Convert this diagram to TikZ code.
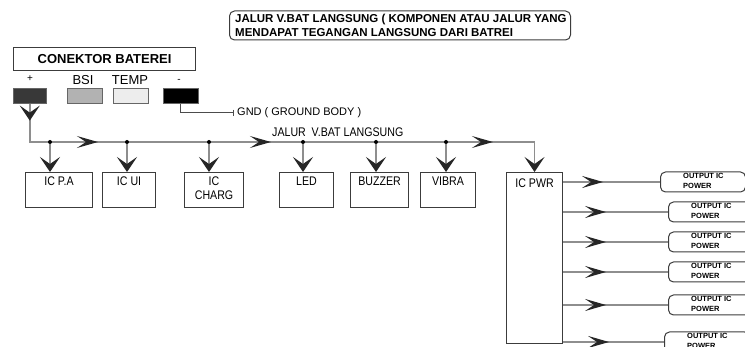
\documentclass[tikz,border=0pt]{standalone}
\usepackage{fontspec}
\setmainfont{Liberation Sans}
\newfontfamily\cond[FakeStretch=0.85]{Liberation Sans}
\newfontfamily\plain{Liberation Sans}
\usetikzlibrary{arrows.meta,decorations.markings}
\definecolor{wire}{HTML}{8E8E8E}
\definecolor{edge}{HTML}{3C3C3C}
\tikzset{
  vhead/.tip={Stealth[length=15pt,width=20pt,inset=7pt,color=black!85]},
  hhead/.tip={Stealth[length=21pt,width=12pt,inset=9pt,color=black!85]},
  wireline/.style={draw=wire,line width=1.4pt},
  midhead/.style={postaction={decorate,decoration={markings,mark=at position #1 with {\arrow{hhead}}}}},
  box/.style={draw=edge,line width=1.1pt,fill=white,inner sep=0pt,anchor=north west},
  lbl/.style={font=\cond\fontsize{12.5}{14}\selectfont,inner sep=0pt,anchor=base},
  pinlbl/.style={font=\plain\fontsize{13}{14}\selectfont,inner sep=0pt,anchor=base},
  small/.style={font=\plain\fontsize{10}{11}\selectfont,inner sep=0pt,anchor=base},
  sq/.style={draw=black!60,line width=0.6pt,inner sep=0pt,anchor=north west,minimum height=15pt},
  outbox/.style={draw=edge,line width=1pt,rounded corners=5pt,minimum width=85pt,minimum height=20pt,anchor=west,inner sep=0pt},
  outtext/.style={font=\plain\bfseries\fontsize{7.5}{10}\selectfont,align=left,inner sep=0pt,anchor=north west},
  junction/.style={circle,fill=black,inner sep=0pt,minimum size=4pt}
}
\begin{document}
\begin{tikzpicture}[x=1pt,y=-1pt]
\useasboundingbox (0,0) rectangle (745,347);
\clip (0,0) rectangle (745,347);
\fill[white] (0,0) rectangle (745,347);

% title
\node[draw=edge,line width=1pt,rounded corners=5pt,anchor=north west,minimum width=341pt,minimum height=29pt,inner sep=0pt] (titlebox) at (229,10.5) {};
\node[font=\plain\bfseries\fontsize{11.5}{14.5}\selectfont,align=left,inner sep=0pt,anchor=north west] (title) at (235,13.5)
  {JALUR V.BAT LANGSUNG ( KOMPONEN ATAU JALUR YANG\\MENDAPAT TEGANGAN LANGSUNG DARI BATREI};

% connector
\node[box,minimum width=182pt,minimum height=23pt,font=\plain\bfseries\fontsize{13}{14}\selectfont] (conn) at (13,47) {CONEKTOR BATEREI};
\node[small] (lplus) at (30,82) {+};
\node[pinlbl] (lbsi) at (83,85) {BSI};
\node[pinlbl] (ltemp) at (130,85) {TEMP};
\node[small] (lminus) at (179,83) {-};
\node[sq,fill=black!78,minimum width=33pt] (sq1) at (13,88) {};
\node[sq,fill=black!30,minimum width=35pt] (sq2) at (67,88) {};
\node[sq,fill=black!7,minimum width=35pt] (sq3) at (113,88) {};
\node[sq,fill=black,minimum width=35pt] (sq4) at (163,88) {};

% ground
\node[font=\plain\fontsize{11}{12}\selectfont,inner sep=0pt,anchor=base west] (gnd) at (237,115.5) {GND ( GROUND BODY )};
\draw[draw=black!70,line width=0.8pt,-{Bar[width=6pt]}] (sq4.south) |- ([xshift=-3pt]gnd.west);

% boxes
\node[box,minimum width=67pt,minimum height=35pt] (pa) at (25,172) {};
\node[box,minimum width=53pt,minimum height=35pt] (ui) at (102,172) {};
\node[box,minimum width=59pt,minimum height=35pt] (charg) at (184,172) {};
\node[box,minimum width=54pt,minimum height=35pt] (led) at (279,172) {};
\node[box,minimum width=58pt,minimum height=35pt] (buzzer) at (350,172) {};
\node[box,minimum width=55pt,minimum height=35pt] (vibra) at (420,172) {};
\node[box,minimum width=56pt,minimum height=171pt] (pwr) at (506,172) {};

\node[lbl] (tpa) at ([yshift=-14pt]pa.north) {IC P.A};
\node[lbl] (tui) at ([yshift=-14pt]ui.north) {IC UI};
\node[lbl] (tch1) at ([yshift=-14pt]charg.north) {IC};
\node[lbl] (tch2) at ([yshift=-28pt]charg.north) {CHARG};
\node[lbl] (tled) at ([yshift=-14pt]led.north) {LED};
\node[lbl] (tbuz) at ([yshift=-14pt]buzzer.north) {BUZZER};
\node[lbl] (tvib) at ([yshift=-14pt]vibra.north) {VIBRA};
\node[lbl] (tpwr) at ([yshift=-16pt]pwr.north) {IC PWR};

% bus
\coordinate (busY) at (0,142);
\coordinate (busL) at (sq1.south |- busY);
\coordinate (busR) at (pwr.north |- busY);
\draw[wireline,-{vhead},postaction={decorate,decoration={markings,
   mark=at position 17pt with {\arrow{vhead}},
   mark=at position 106.5pt with {\arrow{hhead}},
   mark=at position 279.5pt with {\arrow{hhead}},
   mark=at position 501.5pt with {\arrow{hhead}}}}]
  (sq1.south) -- (busL) -- (busR) -- (pwr.north);
\node[lbl,anchor=base west] (buslbl) at (272,137) {JALUR\ \ V.BAT LANGSUNG};

\node[junction] (j1) at (50,142) {};
\node[junction] (j2) at (127,142) {};
\node[junction] (j3) at (209,142) {};
\node[junction] (j4) at (303,142) {};
\node[junction] (j5) at (376,142) {};
\node[junction] (j6) at (446,142) {};
\draw[wireline,-{vhead}] (j1) -- (j1 |- pa.north);
\draw[wireline,-{vhead}] (j2) -- (j2 |- ui.north);
\draw[wireline,-{vhead}] (j3) -- (j3 |- charg.north);
\draw[wireline,-{vhead}] (j4) -- (j4 |- led.north);
\draw[wireline,-{vhead}] (j5) -- (j5 |- buzzer.north);
\draw[wireline,-{vhead}] (j6) -- (j6 |- vibra.north);

% outputs
\foreach \i/\yy/\xl/\ax in {1/182/660/40,2/212/668/43,3/242/668/43,4/272/668/43,5/305/668/43,6/342/664/46}{
  \node[outbox] (out\i) at (\xl,\yy) {};
  \node[outtext] (outt\i) at ([xshift=23pt,yshift=9pt]out\i.west) {OUTPUT IC\\POWER};
  \draw[wireline,midhead=\ax pt] (pwr.east |- out\i.west) -- (out\i.west);
}
\end{tikzpicture}
\end{document}
